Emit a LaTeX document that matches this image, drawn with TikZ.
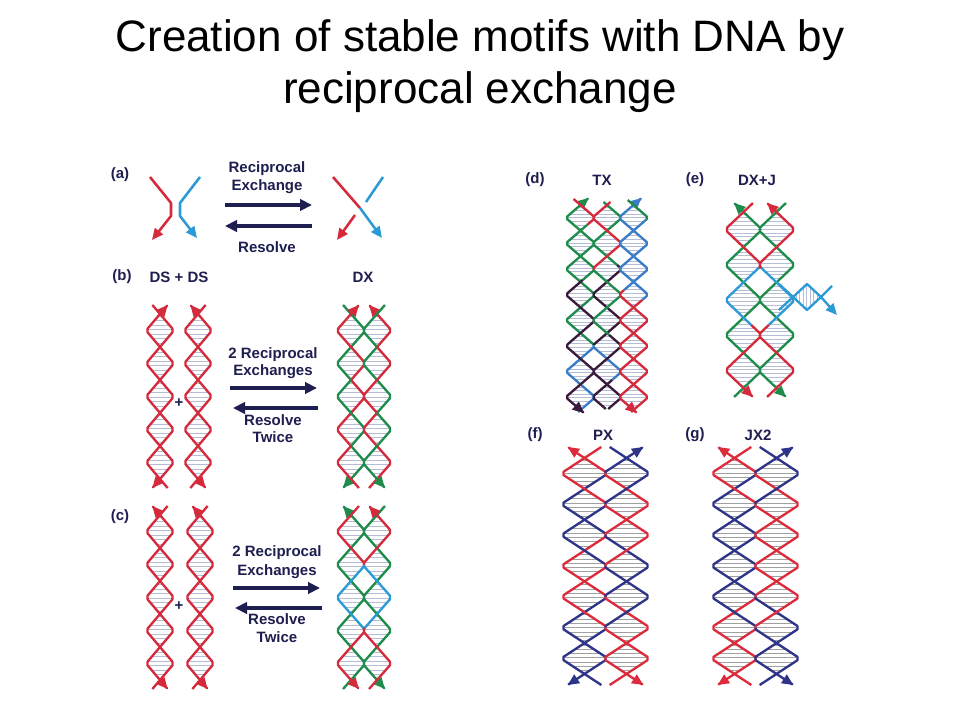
\documentclass[tikz,border=0pt]{standalone}
\usepackage{fontspec}
\setmainfont{Liberation Sans}
\usetikzlibrary{arrows.meta}
\definecolor{dred}{HTML}{D42A3C}
\definecolor{dgreen}{HTML}{1E8C4A}
\definecolor{dblue}{HTML}{2C9AD6}
\definecolor{tblue}{HTML}{3A7CC8}
\definecolor{navy}{HTML}{1E1E50}
\definecolor{pxblue}{HTML}{2E3488}
\definecolor{pxred}{HTML}{DC2C3C}
\definecolor{dpurp}{HTML}{3A1A3A}
\definecolor{hatchb}{HTML}{B4BCD6}
\definecolor{hatchg}{HTML}{A0A0A0}
\newcommand\dnaseg[5]{%
  \pgfmathtruncatemacro\ns{abs((#5)-(#4))*1.5+3}%
  \draw[strand,#1] plot[variable=\t,domain=#4:#5,samples=\ns] ({#2+(#3)*\hw*tw((\t-\yz)/\per*360)},\t);}
\newcommand\dnahatch[5]{%
  \pgfmathtruncatemacro\nh{((#4)-(#3))/(#5)}%
  \foreach \i in {0,...,\nh}{%
    \pgfmathsetmacro\ty{#3+\i*#5}%
    \pgfmathsetmacro\sx{0.95*\hw*tw((\ty-\yz)/\per*360)}%
    \draw[#1] ({#2-\sx},\ty) -- ({#2+\sx},\ty);}}
\begin{document}
\begin{tikzpicture}[x=0.75pt,y=-0.75pt,
  declare function={tw(\t)=max(-1,min(1,1.12*asin(sin(\t))/90));},
  strand/.style={line width=1.75pt,line join=round},
  tipS/.style={arrows={Triangle[length=8.5pt,width=7.5pt]-}},
  tipE/.style={arrows={-Triangle[length=8.5pt,width=7.5pt]}},
  lab/.style={font=\bfseries\fontsize{11.25}{13}\selectfont,text=navy,inner sep=0pt},
  bigarrow/.style={navy,line width=3pt,arrows={-Triangle[length=9pt,width=8.5pt]}},
  hb/.style={hatchb,line width=0.5pt},
  hg/.style={hatchg,line width=0.55pt},
  thin/.style={line width=1.9pt,line join=round}]
\fill[white] (0,0) rectangle (960,720);
\useasboundingbox (0,0) rectangle (960,720);
% title
\node[anchor=base,font=\fontsize{33}{38}\selectfont,inner sep=0pt] (t1) at (480,52) {Creation of stable motifs with DNA by};
\node[anchor=base,font=\fontsize{33}{38}\selectfont,inner sep=0pt] (t2) at (480,104) {reciprocal exchange};
% ---------- (a)
\node[lab] (la) at (120,175) {(a)};
\node[lab] (rec1) at (267,169) {Reciprocal};
\node[lab] (rec2) at (267,187) {Exchange};
\node[lab] (res1) at (267,247) {Resolve};
\coordinate (a1s) at (225,205); \coordinate (a1e) at (312,205);
\coordinate (a2s) at (312,226); \coordinate (a2e) at (225,226);
\draw[bigarrow] (a1s) -- (a1e);
\draw[bigarrow] (a2s) -- (a2e);
\draw[thin,dred,tipE] (150,177) -- (171,203) -- (171,216) -- (152,240);
\draw[thin,dblue,tipE] (200,177) -- (180,203) -- (180,216) -- (197,238);
\draw[thin,dred] (333,177) -- (360,208);
\draw[thin,dred,tipE] (355,215) -- (337,240);
\draw[thin,dblue] (383,177) -- (366,202);
\draw[thin,dblue,tipE] (360,208) -- (382,238);
% ---------- (b)
\node[lab] (lb) at (122,277) {(b)};
\node[lab] (dsds1) at (179,277) {DS + DS};
\node[lab] (dx1) at (363,277) {DX};
\node[lab] (b1) at (273,355) {2 Reciprocal};
\node[lab] (b2) at (273,372) {Exchanges};
\node[lab] (b3) at (273,420) {Resolve};
\node[lab] (b4) at (273,437) {Twice};
\node[lab] (bplus) at (179,403) {+};
\coordinate (b1s) at (230,388); \coordinate (b1e) at (317,388);
\coordinate (b2s) at (318,408); \coordinate (b2e) at (233,408);
\draw[bigarrow] (b1s) -- (b1e);
\draw[bigarrow] (b2s) -- (b2e);
\def\hw{12.5}\def\per{66}\def\yz{314}
\dnahatch{hb}{160}{316}{478}{4.5}
\dnahatch{hb}{198}{316}{478}{4.5}
\dnaseg{dred,tipE}{160}{1}{305}{488}
\dnaseg{dred,tipS}{160}{-1}{305}{488}
\dnaseg{dred,tipS}{198}{1}{305}{488}
\dnaseg{dred,tipE}{198}{-1}{305}{488}
\def\hw{13}
\dnahatch{hb}{351}{316}{478}{4.5}
\dnahatch{hb}{377}{316}{478}{4.5}
\dnaseg{dgreen}{351}{1}{305}{380}
\dnaseg{dred}{351}{1}{380}{446}
\dnaseg{dgreen,tipE}{351}{1}{446}{488}
\dnaseg{dred,tipS}{351}{-1}{305}{380}
\dnaseg{dgreen}{351}{-1}{380}{446}
\dnaseg{dred}{351}{-1}{446}{488}
\dnaseg{dred,tipS}{377}{1}{305}{347}
\dnaseg{dgreen}{377}{1}{347}{413}
\dnaseg{dred}{377}{1}{413}{488}
\dnaseg{dgreen}{377}{-1}{305}{347}
\dnaseg{dred}{377}{-1}{347}{413}
\dnaseg{dgreen,tipE}{377}{-1}{413}{488}
% ---------- (c)
\node[lab] (lc) at (120,517) {(c)};
\node[lab] (c1) at (277,553) {2 Reciprocal};
\node[lab] (c2) at (277,572) {Exchanges};
\node[lab] (c3) at (277,619) {Resolve};
\node[lab] (c4) at (277,637) {Twice};
\node[lab] (cplus) at (179,606) {+};
\coordinate (c1s) at (233,588); \coordinate (c1e) at (320,588);
\coordinate (c2s) at (322,608); \coordinate (c2e) at (235,608);
\draw[bigarrow] (c1s) -- (c1e);
\draw[bigarrow] (c2s) -- (c2e);
\def\hw{12.5}\def\per{66}\def\yz{515}
\dnahatch{hb}{160}{517}{679}{4.5}
\dnahatch{hb}{200}{517}{679}{4.5}
\dnaseg{dred,tipS}{160}{1}{506}{689}
\dnaseg{dred,tipE}{160}{-1}{506}{689}
\dnaseg{dred,tipS}{200}{1}{506}{689}
\dnaseg{dred,tipE}{200}{-1}{506}{689}
\def\hw{13}
\dnahatch{hb}{351}{517}{679}{4.5}
\dnahatch{hb}{377}{517}{679}{4.5}
\dnaseg{dgreen,tipS}{351}{1}{506}{689}
\dnaseg{dgreen,tipE}{377}{-1}{506}{689}
\dnaseg{dred}{351}{-1}{506}{565}
\dnaseg{dblue}{351}{-1}{565}{628}
\dnaseg{dred,tipE}{351}{-1}{628}{689}
\dnaseg{dred,tipS}{377}{1}{506}{565}
\dnaseg{dblue}{377}{1}{565}{628}
\dnaseg{dred}{377}{1}{628}{689}
% ---------- (d) TX
\node[lab] (ld) at (535,180) {(d)};
\node[lab] (tx) at (602,180) {TX};
\def\hw{13.25}\def\per{51.25}\def\yz{205}
\dnahatch{hb}{580.5}{207}{408}{3.6}
\dnahatch{hb}{607}{207}{408}{3.6}
\dnahatch{hb}{633.5}{207}{408}{3.6}
\dnaseg{dgreen,tipS}{580.5}{-1}{198}{345}
\dnaseg{tblue}{580.5}{-1}{345}{412}
\dnaseg{dred}{580.5}{1}{199}{225}
\dnaseg{dgreen}{580.5}{1}{225}{280}
\dnaseg{dpurp,tipE}{580.5}{1}{280}{413}
\dnaseg{dgreen}{607}{1}{202}{265}
\dnaseg{dpurp}{607}{1}{265}{345}
\dnaseg{tblue}{607}{1}{345}{380}
\dnaseg{dpurp}{607}{1}{380}{409}
\dnaseg{dred}{607}{-1}{202}{270}
\dnaseg{dgreen}{607}{-1}{270}{335}
\dnaseg{dpurp}{607}{-1}{335}{409}
\dnaseg{tblue,tipS}{633.5}{-1}{198}{300}
\dnaseg{dred}{633.5}{-1}{300}{412}
\dnaseg{dgreen}{633.5}{1}{200}{220}
\dnaseg{tblue}{633.5}{1}{220}{290}
\dnaseg{dred,tipE}{633.5}{1}{290}{413}
% ---------- (e) DX+J
\node[lab] (le) at (695,180) {(e)};
\node[lab] (dxj) at (757,180) {DX+J};
\def\hw{16.5}\def\per{70.4}\def\yz{212}
\dnahatch{hb}{743.5}{214}{386}{3.8}
\dnahatch{hb}{776.5}{214}{386}{3.8}
\foreach \xx in {796,799.5,...,819}{\draw[hb] (\xx,{297-13*(1-abs(\xx-807)/13)}) -- (\xx,{297+13*(1-abs(\xx-807)/13)});}
\draw[strand,dblue] (779,284) -- (793,297) -- (807,284) -- (821,297) -- (832,286);
\draw[strand,dblue,tipE] (779,310) -- (793,297) -- (807,310) -- (821,297) -- (837,315);
\dnaseg{dgreen,tipS}{743.5}{1}{203}{397}
\dnaseg{dgreen,tipE}{776.5}{-1}{203}{397}
\dnaseg{dred}{743.5}{-1}{203}{268}
\dnaseg{dblue}{743.5}{-1}{268}{325}
\dnaseg{dred,tipE}{743.5}{-1}{325}{397}
\dnaseg{dred,tipS}{776.5}{1}{203}{268}
\dnaseg{dblue}{776.5}{1}{268}{325}
\dnaseg{dred}{776.5}{1}{325}{397}
% ---------- (f) PX
\node[lab] (lf) at (535,435) {(f)};
\node[lab] (px) at (603,435) {PX};
\def\hw{21}\def\per{61.7}\def\yz{458}
\dnahatch{hg}{584.5}{460}{672}{4.3}
\dnahatch{hg}{626.5}{460}{672}{4.3}
\dnaseg{pxred,tipS}{584.5}{1}{447}{473.4}
\dnaseg{pxblue}{584.5}{1}{473.4}{535.1}
\dnaseg{pxred}{584.5}{1}{535.1}{596.8}
\dnaseg{pxblue,tipE}{584.5}{1}{596.8}{685}
\dnaseg{pxblue,tipS}{626.5}{-1}{447}{473.4}
\dnaseg{pxred}{626.5}{-1}{473.4}{535.1}
\dnaseg{pxblue}{626.5}{-1}{535.1}{596.8}
\dnaseg{pxred,tipE}{626.5}{-1}{596.8}{685}
\dnaseg{pxred}{584.5}{-1}{447}{504.3}
\dnaseg{pxblue}{584.5}{-1}{504.3}{566}
\dnaseg{pxred}{584.5}{-1}{566}{627.7}
\dnaseg{pxblue}{584.5}{-1}{627.7}{685}
\dnaseg{pxblue}{626.5}{1}{447}{504.3}
\dnaseg{pxred}{626.5}{1}{504.3}{566}
\dnaseg{pxblue}{626.5}{1}{566}{627.7}
\dnaseg{pxred}{626.5}{1}{627.7}{685}
% ---------- (g) JX2
\node[lab] (lg) at (695,435) {(g)};
\node[lab] (jx) at (758,435) {JX2};
\dnahatch{hg}{734.5}{460}{672}{4.3}
\dnahatch{hg}{776.5}{460}{672}{4.3}
\dnaseg{pxred,tipS}{734.5}{1}{447}{473.4}
\dnaseg{pxblue}{734.5}{1}{473.4}{596.8}
\dnaseg{pxred,tipE}{734.5}{1}{596.8}{685}
\dnaseg{pxblue,tipS}{776.5}{-1}{447}{473.4}
\dnaseg{pxred}{776.5}{-1}{473.4}{596.8}
\dnaseg{pxblue,tipE}{776.5}{-1}{596.8}{685}
\dnaseg{pxred}{734.5}{-1}{447}{504.3}
\dnaseg{pxblue}{734.5}{-1}{504.3}{627.7}
\dnaseg{pxred}{734.5}{-1}{627.7}{685}
\dnaseg{pxblue}{776.5}{1}{447}{504.3}
\dnaseg{pxred}{776.5}{1}{504.3}{627.7}
\dnaseg{pxblue}{776.5}{1}{627.7}{685}
\end{tikzpicture}
\end{document}
